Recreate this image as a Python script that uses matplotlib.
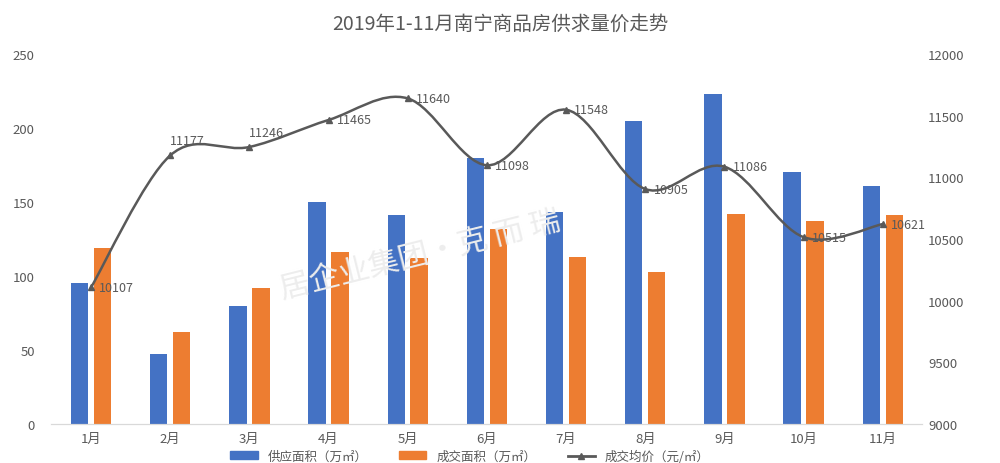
import matplotlib
matplotlib.use("Agg")
import matplotlib.pyplot as plt
from matplotlib.path import Path
from matplotlib.patches import PathPatch, Patch
from matplotlib.lines import Line2D
import numpy as np

plt.rcParams['font.family'] = ['Noto Sans CJK SC', 'DejaVu Sans']

# 数据
months = ["1月", "2月", "3月", "4月", "5月", "6月", "7月", "8月", "9月", "10月", "11月"]
supply = [95, 47, 80, 150, 141, 180, 143, 205, 223, 170, 161]     # 供应面积（万㎡）
deal = [119, 62, 92, 116, 112, 132, 113, 103, 142, 137, 141]      # 成交面积（万㎡）
price = [10107, 11177, 11246, 11465, 11640, 11098, 11548, 10905, 11086, 10515, 10621]  # 成交均价（元/㎡）

BLUE = "#4472C4"
ORANGE = "#ED7D31"
GRAY = "#595959"
TXT = "#595959"

fig = plt.figure(figsize=(10, 4.64), dpi=100)
ax = fig.add_axes([0.0514, 0.084, 0.871, 0.7975])
ax2 = ax.twinx()

x = np.arange(len(months))
w = 0.22
ax.bar(x - 0.145, supply, w, color=BLUE, zorder=2)
ax.bar(x + 0.145, deal, w, color=ORANGE, zorder=2)

ax.set_xlim(-0.5, len(months) - 0.5)
ax.set_ylim(0, 250)
ax.set_yticks(range(0, 251, 50))
ax2.set_ylim(9000, 12000)
ax2.set_yticks(range(9000, 12001, 500))
ax.set_xticks(x)
ax.set_xticklabels(months)

for a in (ax, ax2):
    for s in ("top", "left", "right"):
        a.spines[s].set_visible(False)
    a.spines["bottom"].set_color("#d9d9d9")
    a.tick_params(length=0, colors=TXT, labelsize=9.5)
ax.tick_params(axis="y", pad=12)
ax2.tick_params(axis="y", pad=4)
ax.tick_params(axis="x", pad=6)

# 平滑曲线（类似 Excel 平滑线），用贝塞尔曲线连接各数据点
px = x.astype(float)
py = np.array(price, dtype=float)
verts = [(px[0], py[0])]
codes = [Path.MOVETO]
n = len(px)
for i in range(n - 1):
    p0 = (px[i - 1], py[i - 1]) if i > 0 else (px[i], py[i])
    p1 = (px[i], py[i])
    p2 = (px[i + 1], py[i + 1])
    p3 = (px[i + 2], py[i + 2]) if i + 2 < n else p2
    c1 = (p1[0] + (p2[0] - p0[0]) / 6, p1[1] + (p2[1] - p0[1]) / 6)
    c2 = (p2[0] - (p3[0] - p1[0]) / 6, p2[1] - (p3[1] - p1[1]) / 6)
    verts += [c1, c2, p2]
    codes += [Path.CURVE4] * 3
ax2.add_patch(PathPatch(Path(verts, codes), facecolor="none", edgecolor=GRAY, lw=1.8, zorder=3))
ax2.plot(px, py, linestyle="none", marker="^", ms=4, color=GRAY, zorder=4)

for i, v in enumerate(price):
    if i in (1, 2):
        ax2.annotate(str(v), (px[i], v), textcoords="offset points", xytext=(0, 6),
                     ha="left", va="bottom", fontsize=9, color=TXT, zorder=5)
    else:
        ax2.annotate(str(v), (px[i], v), textcoords="offset points", xytext=(6, 0),
                     ha="left", va="center", fontsize=9, color=TXT, zorder=5)

# 水印
fig.text(0.42, 0.45, "居企业集团·克 而 瑞", fontsize=22, color="#ededed", rotation=14,
         ha="center", va="center", zorder=0)

fig.suptitle("2019年1-11月南宁商品房供求量价走势", y=0.97, fontsize=14, color=TXT)

handles = [Patch(color=BLUE), Patch(color=ORANGE),
           Line2D([], [], color=GRAY, lw=2, marker="^", ms=4)]
labels = ["供应面积（万㎡）", "成交面积（万㎡）", "成交均价（元/㎡）"]
fig.legend(handles, labels, loc="upper center", bbox_to_anchor=(0.47, 0.045), ncol=3,
           frameon=False, fontsize=9, labelcolor=TXT, columnspacing=2.5, handlelength=2.2,
           borderpad=0.1, handleheight=0.6)

plt.savefig("out.png", dpi=100)
